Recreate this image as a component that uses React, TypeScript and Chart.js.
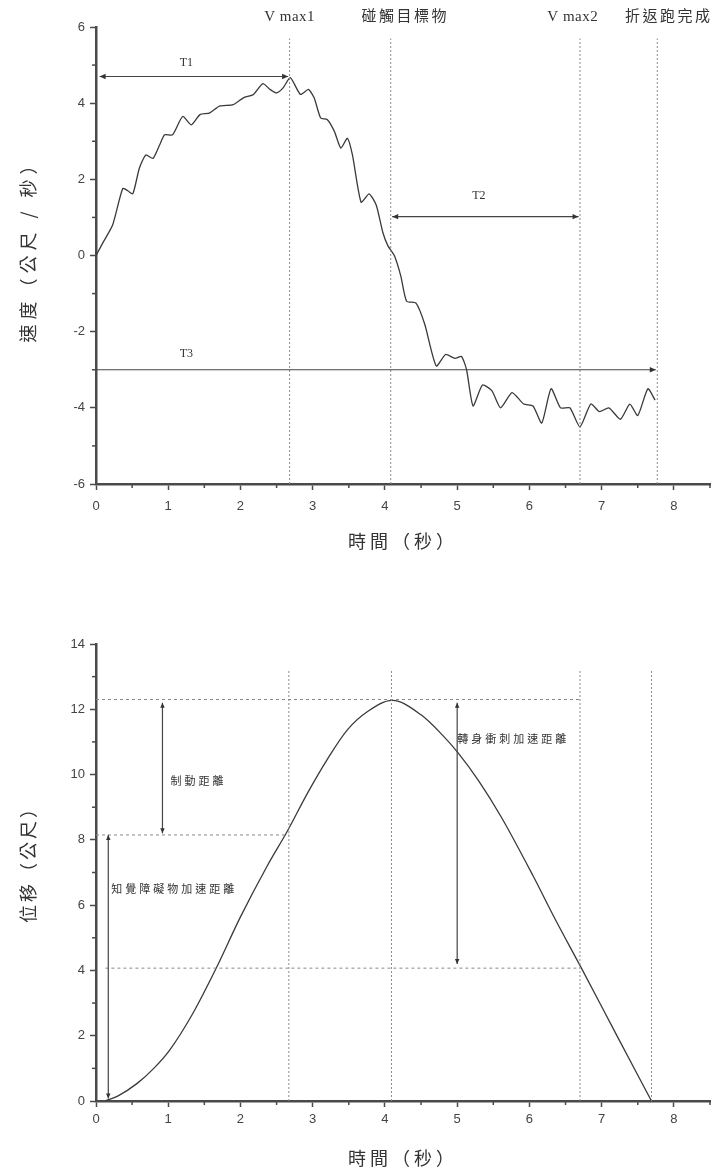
import React, { useEffect, useRef } from 'react';
import { Chart, registerables } from 'chart.js';

Chart.register(...registerables);

// ---------- DATA ----------
const velocityTimes = [0, 0.1, 0.23, 0.37, 0.44, 0.51, 0.6, 0.69, 0.79, 0.88, 0.95, 1.06, 1.2, 1.32, 1.44, 1.57, 1.71, 1.9, 2.04, 2.18, 2.31, 2.41, 2.5, 2.59, 2.69, 2.83, 2.94, 3.02, 3.11, 3.2, 3.3, 3.39, 3.48, 3.55, 3.67, 3.78, 3.88, 3.97, 4.04, 4.13, 4.22, 4.3, 4.43, 4.55, 4.71, 4.84, 4.97, 5.06, 5.13, 5.22, 5.35, 5.48, 5.6, 5.76, 5.92, 6.05, 6.17, 6.3, 6.43, 6.56, 6.7, 6.85, 6.97, 7.1, 7.26, 7.39, 7.5, 7.64, 7.74];
const velocityValues = [0, 0.35, 0.8, 1.76, 1.7, 1.62, 2.29, 2.64, 2.55, 2.9, 3.17, 3.17, 3.65, 3.43, 3.7, 3.74, 3.92, 3.96, 4.14, 4.23, 4.51, 4.36, 4.27, 4.4, 4.67, 4.23, 4.36, 4.14, 3.61, 3.57, 3.26, 2.82, 3.08, 2.64, 1.4, 1.62, 1.32, 0.61, 0.26, 0, -0.54, -1.2, -1.25, -1.8, -2.9, -2.6, -2.7, -2.65, -3.0, -3.95, -3.4, -3.55, -4.0, -3.6, -3.9, -3.95, -4.4, -3.5, -4.0, -4.0, -4.5, -3.9, -4.1, -4.0, -4.3, -3.9, -4.2, -3.5, -3.8];

const displacementTimes = [0.13, 0.3, 0.57, 0.8, 1.02, 1.34, 1.66, 2.0, 2.37, 2.65, 2.93, 3.2, 3.48, 3.76, 4.1, 4.5, 4.8, 5.01, 5.3, 5.61, 6.05, 6.35, 6.72, 7.2, 7.69];
const displacementValues = [0, 0.15, 0.54, 1.0, 1.56, 2.68, 4.05, 5.64, 7.2, 8.27, 9.44, 10.46, 11.37, 11.93, 12.27, 11.83, 11.2, 10.67, 9.8, 8.7, 6.9, 5.6, 4.07, 2.05, 0];

const xTickLabels = [0, 1, 2, 3, 4, 5, 6, 7, 8];
const velocityTickLabels = [-6, -4, -2, 0, 2, 4, 6];
const displacementTickLabels = [0, 2, 4, 6, 8, 10, 12, 14];

const velocityMarkerTimes = [2.68, 4.08, 6.7, 7.77];
const velocityMarkerLabels = ['V max1', '碰觸目標物', 'V max2', '折返跑完成'];
const velocityMarkerLabelCenters = [2.68, 4.28, 6.6, 7.93];

const intervalNames = ['T1', 'T2', 'T3'];
const intervalStarts = [0.05, 4.1, 0];
const intervalEnds = [2.66, 6.68, 7.75];
const intervalLevels = [4.7, 1.02, -3.0];
const intervalLabelX = [1.25, 5.3, 1.25];
const intervalLabelY = [5.05, 1.56, -2.57];
const intervalStartHeads = [true, true, false];

const displacementMarkerTimes = [2.67, 4.09, 6.7, 7.69];
const refLevels = [12.3, 8.15, 4.07];
const refStarts = [0, 0, 0.13];
const refEnds = [6.7, 2.67, 6.7];

const distanceNames = ['制動距離', '知覺障礙物加速距離', '轉身衝刺加速距離'];
const distanceX = [0.92, 0.17, 5.0];
const distanceFrom = [8.2, 0.08, 4.2];
const distanceTo = [12.2, 8.15, 12.2];
const distanceLabelX = [1.03, 0.21, 5.0];
const distanceLabelY = [9.8, 6.5, 11.1];

// ---------- HELPERS ----------
const TEXT = '#333';
const AXIS = '#4a4a4a';
const SERIF = '"Liberation Serif", "Noto Sans CJK TC", serif';
const CJK = '"Noto Sans CJK TC", "Liberation Serif", serif';

function arrowHead(ctx: CanvasRenderingContext2D, x: number, y: number, ang: number, size = 6) {
  ctx.save();
  ctx.translate(x, y);
  ctx.rotate(ang);
  ctx.beginPath();
  ctx.moveTo(0, 0);
  ctx.lineTo(-size, -size * 0.45);
  ctx.lineTo(-size, size * 0.45);
  ctx.closePath();
  ctx.fill();
  ctx.restore();
}

function minorTicks(chart: any, xMinor: number[], yMinor: number[]) {
  const { ctx } = chart;
  const xs = chart.scales.x, ys = chart.scales.y;
  ctx.save();
  ctx.strokeStyle = AXIS;
  ctx.lineWidth = 1.5;
  const yb = ys.getPixelForValue(ys.min);
  xMinor.forEach(v => {
    const px = xs.getPixelForValue(v);
    ctx.beginPath();
    ctx.moveTo(px, yb);
    ctx.lineTo(px, yb + 4);
    ctx.stroke();
  });
  const xl = xs.getPixelForValue(0);
  yMinor.forEach(v => {
    const py = ys.getPixelForValue(v);
    ctx.beginPath();
    ctx.moveTo(xl, py);
    ctx.lineTo(xl - 4, py);
    ctx.stroke();
  });
  ctx.restore();
}

function drawText(ctx: CanvasRenderingContext2D, text: string, x: number, y: number, font: string, align: CanvasTextAlign, spacing: number, rot = 0) {
  ctx.save();
  ctx.font = font;
  (ctx as any).letterSpacing = spacing + 'px';
  ctx.fillStyle = TEXT;
  ctx.textAlign = align;
  ctx.textBaseline = 'middle';
  ctx.translate(x, y);
  if (rot) ctx.rotate(rot);
  ctx.fillText(text, 0, 0);
  ctx.restore();
}

const xMinorVals = [0.5, 1.5, 2.5, 3.5, 4.5, 5.5, 6.5, 7.5, 8.5];

function axisOpts(min: number, max: number, ticks: number[], extra: any) {
  return {
    type: 'linear',
    min,
    max,
    afterBuildTicks: (s: any) => { s.ticks = ticks.map(v => ({ value: v })); },
    grid: { drawOnChartArea: false, drawTicks: true, tickLength: 6, tickWidth: 1.5, tickColor: AXIS, color: AXIS },
    border: { display: true, width: 2.5, color: AXIS },
    ticks: { color: '#444', font: { family: '"Liberation Sans", Arial, sans-serif', size: 13 }, maxRotation: 0, autoSkip: false, ...(extra.ticks || {}) },
    afterFit: extra.afterFit,
  };
}

const velocityPlugin = {
  id: 'velocityAnnot',
  afterDatasetsDraw(chart: any) {
    const { ctx } = chart;
    const xs = chart.scales.x, ys = chart.scales.y;
    minorTicks(chart, xMinorVals, [-5, -3, -1, 1, 3, 5]);
    velocityMarkerLabels.forEach((lab, i) => {
      drawText(ctx, lab, xs.getPixelForValue(velocityMarkerLabelCenters[i]), 17, '15px ' + SERIF, 'center', /[A-Za-z]/.test(lab) ? 0.5 : 2.5);
    });
    ctx.save();
    ctx.strokeStyle = '#444';
    ctx.fillStyle = '#333';
    ctx.lineWidth = 1.2;
    intervalNames.forEach((name, i) => {
      const x1 = xs.getPixelForValue(intervalStarts[i]);
      const x2 = xs.getPixelForValue(intervalEnds[i]);
      const py = ys.getPixelForValue(intervalLevels[i]);
      ctx.beginPath();
      ctx.moveTo(x1, py);
      ctx.lineTo(x2, py);
      ctx.stroke();
      arrowHead(ctx, x2, py, 0);
      if (intervalStartHeads[i]) arrowHead(ctx, x1, py, Math.PI);
      drawText(ctx, name, xs.getPixelForValue(intervalLabelX[i]), ys.getPixelForValue(intervalLabelY[i]), '12px ' + SERIF, 'center', 0);
    });
    ctx.restore();
    drawText(ctx, '時間（秒）', (xs.left + xs.right) / 2, 541, '18px ' + CJK, 'center', 4);
    drawText(ctx, '速度（公尺 / 秒）', 28, 247, '18px ' + CJK, 'center', 5, -Math.PI / 2);
  },
};

const displacementPlugin = {
  id: 'displacementAnnot',
  afterDatasetsDraw(chart: any) {
    const { ctx } = chart;
    const xs = chart.scales.x, ys = chart.scales.y;
    minorTicks(chart, xMinorVals, [1, 3, 5, 7, 9, 11, 13]);
    ctx.save();
    ctx.strokeStyle = '#444';
    ctx.fillStyle = '#333';
    ctx.lineWidth = 1.2;
    distanceNames.forEach((name, i) => {
      const px = xs.getPixelForValue(distanceX[i]);
      const y1 = ys.getPixelForValue(distanceFrom[i]);
      const y2 = ys.getPixelForValue(distanceTo[i]);
      ctx.beginPath();
      ctx.moveTo(px, y1);
      ctx.lineTo(px, y2);
      ctx.stroke();
      arrowHead(ctx, px, y2, -Math.PI / 2, 5);
      arrowHead(ctx, px, y1, Math.PI / 2, 5);
      drawText(ctx, name, xs.getPixelForValue(distanceLabelX[i]), ys.getPixelForValue(distanceLabelY[i]), '11px ' + CJK, 'left', 3);
    });
    ctx.restore();
    drawText(ctx, '時間（秒）', (xs.left + xs.right) / 2, 578, '18px ' + CJK, 'center', 4);
    drawText(ctx, '位移（公尺）', 28, 280, '18px ' + CJK, 'center', 3, -Math.PI / 2);
  },
};

function lineDs(data: { x: number; y: number }[], color: string, width: number, dash: number[] = [], tension = 0, mono = false) {
  return {
    data,
    showLine: true,
    borderColor: color,
    borderWidth: width,
    borderDash: dash,
    pointRadius: 0,
    tension,
    cubicInterpolationMode: mono ? 'monotone' : 'default',
    fill: false,
  };
}

export default function App() {
  const topRef = useRef<HTMLCanvasElement>(null);
  const botRef = useRef<HTMLCanvasElement>(null);

  useEffect(() => {
    const velocityData = velocityTimes.map((t, i) => ({ x: t, y: velocityValues[i] }));
    const topDatasets: any[] = velocityMarkerTimes.map(t =>
      lineDs([{ x: t, y: -6 }, { x: t, y: 5.7 }], '#8a8a8a', 1, [2, 2])
    );
    topDatasets.push(lineDs(velocityData, '#3a3a3a', 1.3, [], 0.2));

    const top = new Chart(topRef.current as HTMLCanvasElement, {
      type: 'scatter',
      data: { datasets: topDatasets },
      options: {
        responsive: false,
        animation: false,
        layout: { padding: { left: 0, top: 27, right: 10, bottom: 28 } },
        plugins: { legend: { display: false }, tooltip: { enabled: false } },
        scales: {
          x: axisOpts(0, 8.5, xTickLabels, { ticks: { padding: 9 }, afterFit: (s: any) => { s.height = 68; } }),
          y: axisOpts(-6, 6, velocityTickLabels, { ticks: { padding: 5 }, afterFit: (s: any) => { s.width = 96; } }),
        },
      } as any,
      plugins: [velocityPlugin],
    });

    const dispData = displacementTimes.map((t, i) => ({ x: t, y: displacementValues[i] }));
    const botDatasets: any[] = displacementMarkerTimes.map(t =>
      lineDs([{ x: t, y: 0 }, { x: t, y: 13.2 }], '#8a8a8a', 1, [2, 2])
    );
    refLevels.forEach((lv, i) => {
      botDatasets.push(lineDs([{ x: refStarts[i], y: lv }, { x: refEnds[i], y: lv }], '#8a8a8a', 1, [3, 3]));
    });
    botDatasets.push(lineDs(dispData, '#3a3a3a', 1.3, [], 0.4, true));

    const bot = new Chart(botRef.current as HTMLCanvasElement, {
      type: 'scatter',
      data: { datasets: botDatasets },
      options: {
        responsive: false,
        animation: false,
        layout: { padding: { left: 0, top: 64, right: 10, bottom: 3 } },
        plugins: { legend: { display: false }, tooltip: { enabled: false } },
        scales: {
          x: axisOpts(0, 8.5, xTickLabels, { ticks: { padding: 5 }, afterFit: (s: any) => { s.height = 68; } }),
          y: axisOpts(0, 14, displacementTickLabels, { ticks: { padding: 5 }, afterFit: (s: any) => { s.width = 96; } }),
        },
      } as any,
      plugins: [displacementPlugin],
    });

    return () => {
      top.destroy();
      bot.destroy();
    };
  }, []);

  return (
    <div style={{ position: 'absolute', left: 0, top: 0, width: 720, height: 1172, background: '#fff' }}>
      <canvas ref={topRef} width={720} height={580} style={{ position: 'absolute', left: 0, top: 0 }} />
      <canvas ref={botRef} width={720} height={592} style={{ position: 'absolute', left: 0, top: 580 }} />
    </div>
  );
}
